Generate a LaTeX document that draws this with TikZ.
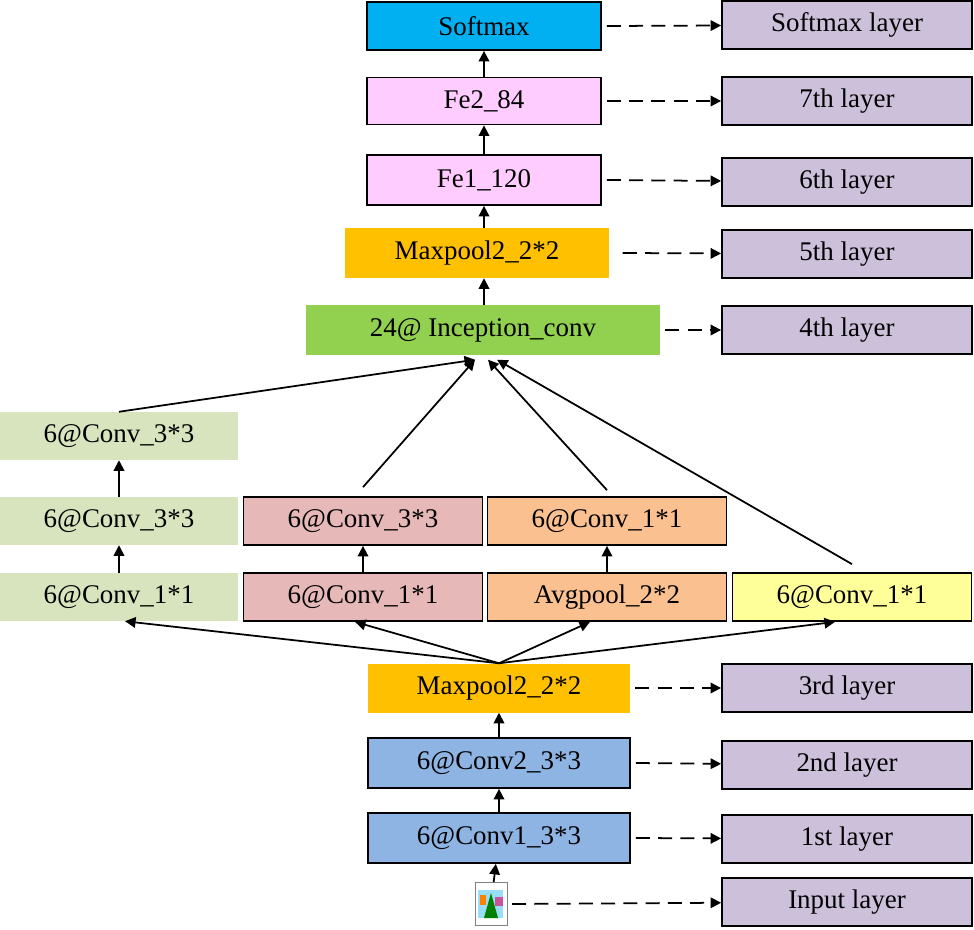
\documentclass[tikz,border=0pt]{standalone}
\usepackage{fontspec}
\setmainfont{Liberation Serif}
\usetikzlibrary{arrows.meta}
\definecolor{cSoft}{HTML}{00B0F0}
\definecolor{cFe}{HTML}{FFCCFF}
\definecolor{cPool}{HTML}{FFC000}
\definecolor{cInc}{HTML}{92D050}
\definecolor{cLay}{HTML}{CCC0DA}
\definecolor{cGreen}{HTML}{D7E4BD}
\definecolor{cRed}{HTML}{E6B9B8}
\definecolor{cOrange}{HTML}{FAC090}
\definecolor{cYellow}{HTML}{FFFF99}
\definecolor{cConv}{HTML}{8EB4E3}
\tikzset{
  box/.style = {draw=black, line width=1.5pt, inner sep=0pt, font=\fontsize{23}{26}\selectfont},
  flat/.style = {inner sep=0pt, font=\fontsize{23}{26}\selectfont},
  up/.style = {line width=1.5pt, -{Triangle[length=9pt,width=9pt]}},
  dasharr/.style = {line width=1.5pt, dash pattern=on 12pt off 7pt, -{Triangle[length=9pt,width=9pt]}}
}
\begin{document}
\begin{tikzpicture}[x=0.03cm,y=-0.03cm]
    \useasboundingbox (0,0) rectangle (974,930);
    % main column
    \node[box, fill=cSoft, minimum width=7.02cm, minimum height=1.44cm] (soft) at (484,26) {Softmax};
    \node[box, fill=cFe, minimum width=7.02cm, minimum height=1.41cm] (fe2) at (484,101) {Fe2\_84};
    \node[box, fill=cFe, minimum width=7.02cm, minimum height=1.5cm] (fe1) at (484,180) {Fe1\_120};
    \node[flat, fill=cPool, minimum width=7.89cm, minimum height=1.5cm] (pool2) at (477,253) {Maxpool2\_2*2};
    \node[flat, fill=cInc, minimum width=10.62cm, minimum height=1.47cm] (inc) at (483,330) {24@ Inception\_conv};
    \node[flat, fill=cPool, minimum width=7.86cm, minimum height=1.47cm] (pool1) at (499,688) {Maxpool2\_2*2};
    \node[box, fill=cConv, minimum width=7.86cm, minimum height=1.5cm] (conv2) at (499,763) {6@Conv2\_3*3};
    \node[box, fill=cConv, minimum width=7.86cm, minimum height=1.5cm] (conv1) at (499,838) {6@Conv1\_3*3};
    % input picture
    \node[draw=gray, fill=white, minimum width=0.95cm, minimum height=1.3cm, inner sep=0pt] (input) at (491,904) {};
    \fill[cyan!40] (478,890) rectangle (503,918);
    \fill[green!50!black] (484,918) -- (491,893) -- (498,918) -- cycle;
    \fill[orange] (480,895) rectangle (486,905);
    \fill[magenta!60!gray] (495,897) rectangle (503,906);
    % right labels
    \foreach \name/\y/\txt in {lsoft/25/Softmax layer, l7/101/7th layer, l6/182/6th layer, l5/254/5th layer, l4/330/4th layer, l3/688/3rd layer, l2/765/2nd layer, l1/839/1st layer, l0/902/Input layer}
      \node[box, fill=cLay, minimum width=7.5cm, minimum height=1.44cm] (\name) at (847,\y) {\txt};
    % branches
    \node[flat, fill=cGreen, minimum width=7.14cm, minimum height=1.44cm] (g3) at (119,436) {6@Conv\_3*3};
    \node[flat, fill=cGreen, minimum width=7.14cm, minimum height=1.44cm] (g2) at (119,521) {6@Conv\_3*3};
    \node[flat, fill=cGreen, minimum width=7.14cm, minimum height=1.44cm] (g1) at (119,597) {6@Conv\_1*1};
    \node[box, fill=cRed, minimum width=7.17cm, minimum height=1.44cm] (r2) at (363,521) {6@Conv\_3*3};
    \node[box, fill=cRed, minimum width=7.17cm, minimum height=1.44cm] (r1) at (363,597) {6@Conv\_1*1};
    \node[box, fill=cOrange, minimum width=7.17cm, minimum height=1.44cm] (o2) at (607,521) {6@Conv\_1*1};
    \node[box, fill=cOrange, minimum width=7.17cm, minimum height=1.44cm] (o1) at (607,597) {Avgpool\_2*2};
    \node[box, fill=cYellow, minimum width=7.17cm, minimum height=1.44cm] (y1) at (852,597) {6@Conv\_1*1};
    % vertical arrows
    \draw[up] (input) -- (conv1);
    \draw[up] (conv1) -- (conv2);
    \draw[up] (conv2) -- (pool1);
    \draw[up] (inc.north -| soft) -- (pool2.south -| soft);
    \draw[up] (pool2.north -| soft) -- (fe1);
    \draw[up] (fe1) -- (fe2);
    \draw[up] (fe2) -- (soft);
    \draw[up] (g1) -- (g2);
    \draw[up] (g2) -- (g3);
    \draw[up] (r1) -- (r2);
    \draw[up] (o1) -- (o2);
    % fan out
    \draw[up] (pool1.north) -- ([xshift=0.18cm]g1.south);
    \draw[up] (pool1.north) -- ([xshift=-0.24cm]r1.south);
    \draw[up] (pool1.north) -- ([xshift=-0.51cm]o1.south);
    \draw[up] (pool1.north) -- ([xshift=-0.51cm]y1.south);
    % fan in
    \draw[up] (g3.north) -- ([xshift=-0.24cm,yshift=-0.15cm]inc.south);
    \draw[up] ([yshift=0.27cm]r2.north) -- ([xshift=-0.24cm,yshift=-0.15cm]inc.south);
    \draw[up] ([yshift=0.18cm]o2.north) -- ([xshift=0.15cm,yshift=-0.15cm]inc.south);
    \draw[up] ([yshift=0.24cm]y1.north) -- ([xshift=0.42cm,yshift=-0.15cm]inc.south);
    % dashed
    \draw[dasharr] ([xshift=0.15cm]soft.east) -- (lsoft);
    \draw[dasharr] ([xshift=0.15cm]fe2.east) -- (l7);
    \draw[dasharr] ([xshift=0.15cm]fe1.east) -- (l6);
    \draw[dasharr] ([xshift=0.42cm]pool2.east) -- (l5);
    \draw[dasharr] ([xshift=0.15cm]inc.east) -- (l4);
    \draw[dasharr] ([xshift=0.15cm]pool1.east) -- (l3);
    \draw[dasharr] ([xshift=0.15cm]conv2.east) -- (l2);
    \draw[dasharr] ([xshift=0.15cm]conv1.east) -- (l1);
    \draw[dasharr] ([xshift=0.15cm]input.east) -- (l0);
\end{tikzpicture}
\end{document}
